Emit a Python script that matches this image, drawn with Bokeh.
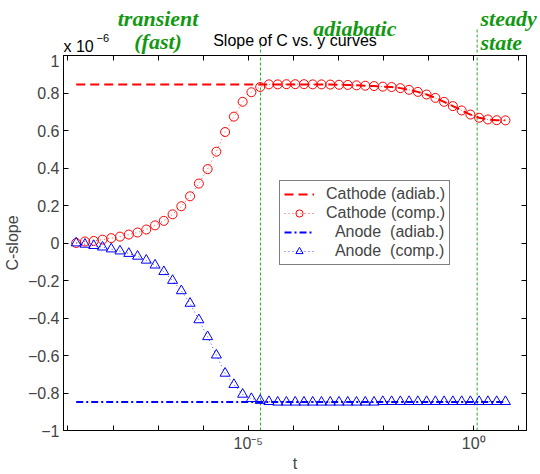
from bokeh.plotting import figure
from bokeh.layouts import column
from bokeh.models import (Range1d, LogAxis, LinearAxis, FixedTicker, Legend,
                          LegendItem, Label)
from bokeh.embed import file_html
from bokeh.resources import INLINE

# ---------------- data (C-slope in units of 1e-6) ----------------
log10_t = [-8.816, -8.622, -8.427, -8.233, -8.039, -7.845, -7.650, -7.456, -7.262, -7.068,
           -6.873, -6.679, -6.485, -6.291, -6.096, -5.902, -5.708, -5.514, -5.319, -5.125,
           -4.931, -4.736, -4.542, -4.348, -4.154, -3.959, -3.765, -3.571, -3.377, -3.182,
           -2.988, -2.794, -2.600, -2.405, -2.211, -2.017, -1.822, -1.628, -1.434, -1.240,
           -1.045, -0.851, -0.657, -0.463, -0.268, -0.074, 0.120, 0.314, 0.509, 0.703]

cathode_comp = [0.000, 0.008, 0.011, 0.018, 0.026, 0.034, 0.045, 0.056, 0.072, 0.094,
                0.118, 0.153, 0.196, 0.249, 0.317, 0.394, 0.487, 0.592, 0.674, 0.753,
                0.804, 0.832, 0.846, 0.846, 0.847, 0.847, 0.847, 0.846, 0.846, 0.845,
                0.844, 0.843, 0.841, 0.839, 0.837, 0.834, 0.832, 0.826, 0.817, 0.806,
                0.792, 0.774, 0.753, 0.730, 0.707, 0.685, 0.668, 0.659, 0.655, 0.654]

cathode_adiab = [0.845, 0.845, 0.845, 0.845, 0.845, 0.845, 0.845, 0.845, 0.845, 0.845,
                 0.845, 0.845, 0.845, 0.845, 0.845, 0.845, 0.845, 0.845, 0.845, 0.845,
                 0.845, 0.845, 0.845, 0.845, 0.845, 0.845, 0.845, 0.845, 0.845, 0.845,
                 0.844, 0.843, 0.841, 0.839, 0.837, 0.834, 0.832, 0.826, 0.817, 0.806,
                 0.792, 0.774, 0.753, 0.730, 0.707, 0.685, 0.668, 0.659, 0.655, 0.654]

anode_comp = [0.000, -0.007, -0.014, -0.022, -0.032, -0.043, -0.056, -0.071, -0.092, -0.118,
              -0.153, -0.200, -0.255, -0.322, -0.410, -0.500, -0.598, -0.695, -0.755, -0.807,
              -0.830, -0.840, -0.846, -0.849, -0.849, -0.849, -0.849, -0.849, -0.849, -0.849,
              -0.849, -0.849, -0.849, -0.849, -0.849, -0.846, -0.846, -0.846, -0.846, -0.846,
              -0.846, -0.846, -0.846, -0.846, -0.846, -0.846, -0.846, -0.846, -0.846, -0.846]

anode_adiab = [-0.848] * 50

# regime boundaries (t) and how far above the axes their dotted lines reach (px from page top)
regime_bounds_t = [1.86e-5, 1.19]
regime_bounds_top_px = [43, 28]

x_tick_exps = [-9, -8, -7, -6, -5, -4, -3, -2, -1, 0, 1]
x_tick_text = {-5: "10\u207b\u2075", 0: "10\u2070"}
y_ticks = [-1, -0.8, -0.6, -0.4, -0.2, 0, 0.2, 0.4, 0.6, 0.8, 1]
y_tick_text = ["\u22121", "\u22120.8", "\u22120.6", "\u22120.4", "\u22120.2", "0",
               "0.2", "0.4", "0.6", "0.8", "1"]

t = [10 ** e for e in log10_t]
x_ticks = [10.0 ** e for e in x_tick_exps]

RED = "#ff0000"
BLUE = "#0000ff"
GREEN_TXT = "#129912"
GREEN_LN = "#2aa82a"
FONT = "Liberation Sans"
SERIF = "Liberation Serif"

# ---------------- layout constants ----------------
W = 540
TOP_H = 54                     # header strip (title + regime names)
MAIN_H = 474 - TOP_H
BL, BR = 63, 14                # frame left / right borders
LX0, LX1 = -9.098, 1.17        # log10 of x-range
PX_PER_DEC = (W - BL - BR) / (LX1 - LX0)
x0, x1 = 10 ** LX0, 10 ** LX1


def flatten_title(fig):
    if fig.title is not None:
        fig.title.text = ""
        fig.title.standoff = 0
        fig.title.text_font_size = "1px"


def baseline(y_px, size_px):
    # Label places the text's descent line at y; shift so the baseline lands on y_px
    return y_px - 0.22 * size_px


# ---------------- main plot ----------------
p = figure(width=W, height=MAIN_H, x_axis_type="log",
           x_range=Range1d(x0, x1), y_range=Range1d(-1, 1),
           output_backend="svg", toolbar_location=None, frame_align=False,
           min_border_left=BL, min_border_right=BR, min_border_top=1, min_border_bottom=42)
flatten_title(p)
p.background_fill_color = "white"
p.border_fill_color = "white"
p.outline_line_color = "black"
p.outline_line_width = 1
p.xgrid.visible = False
p.ygrid.visible = False

xa = p.xaxis[0]
xa.ticker = FixedTicker(ticks=x_ticks, minor_ticks=[])
xa.major_label_overrides = {x: x_tick_text.get(e, " ") for e, x in zip(x_tick_exps, x_ticks)}
xa.major_tick_in = 5
xa.major_tick_out = 0
xa.minor_tick_in = 0
xa.minor_tick_out = 0
xa.major_label_standoff = 4
xa.major_label_text_font = FONT
xa.major_label_text_font_size = "16px"
xa.axis_label = "t"
xa.axis_label_text_font = FONT
xa.axis_label_text_font_style = "normal"
xa.axis_label_text_font_size = "16px"
xa.axis_label_standoff = 0
xa.axis_line_color = "black"

ya = p.yaxis[0]
ya.ticker = FixedTicker(ticks=y_ticks, minor_ticks=[])
ya.major_label_overrides = {v: s for v, s in zip(y_ticks, y_tick_text)}
ya.major_tick_in = 5
ya.major_tick_out = 0
ya.minor_tick_in = 0
ya.minor_tick_out = 0
ya.major_label_standoff = 4
ya.major_label_text_font = FONT
ya.major_label_text_font_size = "16px"
ya.axis_label = "C-slope"
ya.axis_label_text_font = FONT
ya.axis_label_text_font_style = "normal"
ya.axis_label_text_font_size = "16px"
ya.axis_label_standoff = 4

ra = LinearAxis(ticker=FixedTicker(ticks=y_ticks, minor_ticks=[]),
                major_tick_in=5, major_tick_out=0, minor_tick_in=0, minor_tick_out=0,
                major_label_text_font_size="1px", major_label_text_alpha=0,
                major_label_standoff=0)
ta = LogAxis(ticker=FixedTicker(ticks=x_ticks, minor_ticks=[]),
             major_tick_in=5, major_tick_out=0, minor_tick_in=0, minor_tick_out=0,
             major_label_text_font_size="1px", major_label_text_alpha=0,
             major_label_standoff=0)
p.add_layout(ra, "right")
p.add_layout(ta, "above")

# regime boundaries inside the axes
p.segment(x0=regime_bounds_t, y0=[-1] * 2, x1=regime_bounds_t, y1=[1] * 2,
          line_color=GREEN_LN, line_width=1, line_dash="3 2")

# series
r_cad = p.line(t, cathode_adiab, line_color=RED, line_width=2, line_dash="9 5")
r_ccl = p.line(t, cathode_comp, line_color=RED, line_width=1, line_dash="1 3", line_alpha=0.7)
r_ccm = p.scatter(t, cathode_comp, marker="circle", size=9, fill_color=None,
                  line_color=RED, line_width=1)
r_aad = p.line(t, anode_adiab, line_color=BLUE, line_width=2, line_dash="7 3 2 3")
r_acl = p.line(t, anode_comp, line_color=BLUE, line_width=1, line_dash="1 3", line_alpha=0.7)
r_acm = p.scatter(t, anode_comp, marker="triangle", size=10, fill_color=None,
                  line_color=BLUE, line_width=1)

legend = Legend(items=[
    LegendItem(label="Cathode (adiab.)", renderers=[r_cad]),
    LegendItem(label="Cathode (comp.)", renderers=[r_ccl, r_ccm]),
    LegendItem(label="\u00a0\u00a0Anode\u00a0\u00a0(adiab.)", renderers=[r_aad]),
    LegendItem(label="\u00a0\u00a0Anode\u00a0\u00a0(comp.)", renderers=[r_acl, r_acm]),
], location=(216, 165))
legend.label_text_font = FONT
legend.label_text_font_size = "16px"
legend.padding = 4
legend.spacing = 1
legend.margin = 0
legend.glyph_width = 30
legend.glyph_height = 18
legend.label_height = 18
legend.label_standoff = 12
legend.border_line_color = "black"
legend.border_line_width = 1
legend.background_fill_color = "white"
legend.background_fill_alpha = 1
p.add_layout(legend)

# ---------------- header strip (same x mapping as the axes) ----------------
hx0 = 10 ** (LX0 - BL / PX_PER_DEC)
hx1 = 10 ** (LX1 + BR / PX_PER_DEC)
h = figure(width=W, height=TOP_H, x_axis_type="log",
           x_range=Range1d(hx0, hx1), y_range=Range1d(TOP_H, 0),
           output_backend="svg", toolbar_location=None, frame_align=False,
           min_border=0, x_axis_location=None, y_axis_location=None)
flatten_title(h)
h.outline_line_color = None
h.grid.visible = False
h.background_fill_color = "white"
h.border_fill_color = "white"

h.segment(x0=regime_bounds_t, y0=[TOP_H + 8] * 2, x1=regime_bounds_t, y1=regime_bounds_top_px,
          line_color=GREEN_LN, line_width=1, line_dash="3 2")

xc = 10 ** ((LX0 + LX1) / 2)
h.add_layout(Label(x=xc, y=baseline(44, 16), text="Slope of C vs. y curves",
                   text_align="center", text_baseline="alphabetic", text_font=FONT,
                   text_font_size="16px", text_color="black"))
h.add_layout(Label(x=x0, y=baseline(50, 16), text="x 10", text_align="left",
                   text_baseline="alphabetic", text_font=FONT, text_font_size="16px",
                   text_color="black"))
h.add_layout(Label(x=10 ** (LX0 + 33 / PX_PER_DEC), y=baseline(40, 11), text="\u22126",
                   text_align="left", text_baseline="alphabetic", text_font=FONT,
                   text_font_size="11px", text_color="black"))

GS = 22
green_kw = dict(text_baseline="alphabetic", text_font=SERIF, text_font_size=f"{GS}px",
                text_font_style="bold italic", text_color=GREEN_TXT)
h.add_layout(Label(x=1e-7, y=baseline(23, GS), text="transient", text_align="center", **green_kw))
h.add_layout(Label(x=1e-7, y=baseline(46, GS), text="(fast)", text_align="center", **green_kw))
h.add_layout(Label(x=10 ** -3.557, y=baseline(33, GS), text="adiabatic", text_align="left",
                   **green_kw))
h.add_layout(Label(x=1.41, y=baseline(22.5, GS), text="steady", text_align="left", **green_kw))
h.add_layout(Label(x=1.41, y=baseline(46.5, GS), text="state", text_align="left", **green_kw))

layout = column(h, p, spacing=0)
open("out.html", "w").write(file_html(layout, INLINE))
